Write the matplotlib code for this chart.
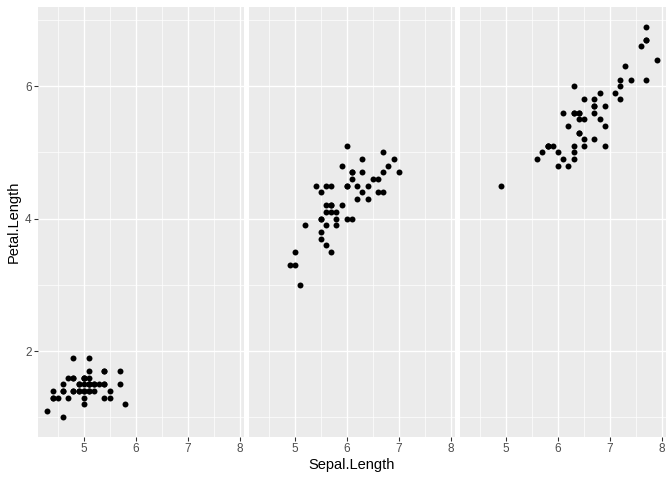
import matplotlib
matplotlib.use("Agg")
import matplotlib.pyplot as plt
from matplotlib.ticker import FixedLocator

plt.rcParams['font.family'] = ['Liberation Sans', 'DejaVu Sans']

# iris: Sepal.Length vs Petal.Length by species
setosa_sl = [5.1, 4.9, 4.7, 4.6, 5.0, 5.4, 4.6, 5.0, 4.4, 4.9, 5.4, 4.8, 4.8, 4.3, 5.8, 5.7, 5.4, 5.1, 5.7, 5.1,
             5.4, 5.1, 4.6, 5.1, 4.8, 5.0, 5.0, 5.2, 5.2, 4.7, 4.8, 5.4, 5.2, 5.5, 4.9, 5.0, 5.5, 4.9, 4.4, 5.1,
             5.0, 4.5, 4.4, 5.0, 5.1, 4.8, 5.1, 4.6, 5.3, 5.0]
setosa_pl = [1.4, 1.4, 1.3, 1.5, 1.4, 1.7, 1.4, 1.5, 1.4, 1.5, 1.5, 1.6, 1.4, 1.1, 1.2, 1.5, 1.3, 1.4, 1.7, 1.5,
             1.7, 1.5, 1.0, 1.7, 1.9, 1.6, 1.6, 1.5, 1.4, 1.6, 1.6, 1.5, 1.5, 1.4, 1.5, 1.2, 1.3, 1.4, 1.3, 1.5,
             1.3, 1.3, 1.3, 1.6, 1.9, 1.4, 1.6, 1.4, 1.5, 1.4]
versicolor_sl = [7.0, 6.4, 6.9, 5.5, 6.5, 5.7, 6.3, 4.9, 6.6, 5.2, 5.0, 5.9, 6.0, 6.1, 5.6, 6.7, 5.6, 5.8, 6.2, 5.6,
                 5.9, 6.1, 6.3, 6.1, 6.4, 6.6, 6.8, 6.7, 6.0, 5.7, 5.5, 5.5, 5.8, 6.0, 5.4, 6.0, 6.7, 6.3, 5.6, 5.5,
                 5.5, 6.1, 5.8, 5.0, 5.6, 5.7, 5.7, 6.2, 5.1, 5.7]
versicolor_pl = [4.7, 4.5, 4.9, 4.0, 4.6, 4.5, 4.7, 3.3, 4.6, 3.9, 3.5, 4.2, 4.0, 4.7, 3.6, 4.4, 4.5, 4.1, 4.5, 3.9,
                 4.8, 4.0, 4.9, 4.7, 4.3, 4.4, 4.8, 5.0, 4.5, 3.5, 3.8, 3.7, 3.9, 5.1, 4.5, 4.5, 4.7, 4.4, 4.1, 4.0,
                 4.4, 4.6, 4.0, 3.3, 4.2, 4.2, 4.2, 4.3, 3.0, 4.1]
virginica_sl = [6.3, 5.8, 7.1, 6.3, 6.5, 7.6, 4.9, 7.3, 6.7, 7.2, 6.5, 6.4, 6.8, 5.7, 5.8, 6.4, 6.5, 7.7, 7.7, 6.0,
                6.9, 5.6, 7.7, 6.3, 6.7, 7.2, 6.2, 6.1, 6.4, 7.2, 7.4, 7.9, 6.4, 6.3, 6.1, 7.7, 6.3, 6.4, 6.0, 6.9,
                6.7, 6.9, 5.8, 6.8, 6.7, 6.7, 6.3, 6.5, 6.2, 5.9]
virginica_pl = [6.0, 5.1, 5.9, 5.6, 5.8, 6.6, 4.5, 6.3, 5.8, 6.1, 5.1, 5.3, 5.5, 5.0, 5.1, 5.3, 5.5, 6.7, 6.9, 5.0,
                5.7, 4.9, 6.7, 4.9, 5.7, 6.0, 4.8, 4.9, 5.6, 5.8, 6.1, 6.4, 5.6, 5.1, 5.6, 6.1, 5.6, 5.5, 4.8, 5.4,
                5.6, 5.1, 5.1, 5.9, 5.7, 5.2, 5.0, 5.2, 5.4, 5.1]

panels = [(setosa_sl, setosa_pl), (versicolor_sl, versicolor_pl), (virginica_sl, virginica_pl)]
x_breaks = [5, 6, 7, 8]
y_breaks = [2, 4, 6]

W, H = 672, 480
fig = plt.figure(figsize=(7, 5), dpi=96)

all_x = setosa_sl + versicolor_sl + virginica_sl
all_y = setosa_pl + versicolor_pl + virginica_pl
xr = max(all_x) - min(all_x)
yr = max(all_y) - min(all_y)
xlim = (min(all_x) - 0.05 * xr, max(all_x) + 0.05 * xr)
ylim = (min(all_y) - 0.05 * yr, max(all_y) + 0.05 * yr)

left, right, gap = 38, 666, 5.5
pw = (right - left - 2 * gap) / 3
top, bottom = 7, 437
for i, (xs, ys) in enumerate(panels):
    x0 = left + i * (pw + gap)
    ax = fig.add_axes([x0 / W, 1 - bottom / H, pw / W, (bottom - top) / H])
    ax.set_facecolor("#EBEBEB")
    for s in ax.spines.values():
        s.set_visible(False)
    ax.set_xlim(xlim)
    ax.set_ylim(ylim)
    ax.xaxis.set_major_locator(FixedLocator(x_breaks))
    ax.xaxis.set_minor_locator(FixedLocator([4.5, 5.5, 6.5, 7.5]))
    ax.yaxis.set_major_locator(FixedLocator(y_breaks))
    ax.yaxis.set_minor_locator(FixedLocator([1, 3, 5, 7]))
    ax.grid(which="major", color="white", linewidth=1.0)
    ax.grid(which="minor", color="white", linewidth=0.5)
    ax.set_axisbelow(True)
    ax.tick_params(which="major", length=2.75, width=0.8, color="#333333",
                   labelsize=8.8, labelcolor="#4D4D4D", pad=2)
    ax.tick_params(which="minor", length=0)
    if i > 0:
        ax.tick_params(axis="y", which="major", length=0, labelleft=False)
    ax.scatter(xs, ys, s=20, color="black", linewidths=0, zorder=3)

fig.text(352 / W, 1 - 465 / H, "Sepal.Length", ha="center", va="center", fontsize=11)
fig.text(14 / W, 1 - 222 / H, "Petal.Length", ha="center", va="center", fontsize=11, rotation=90)

fig.savefig("out.png", dpi=96)
